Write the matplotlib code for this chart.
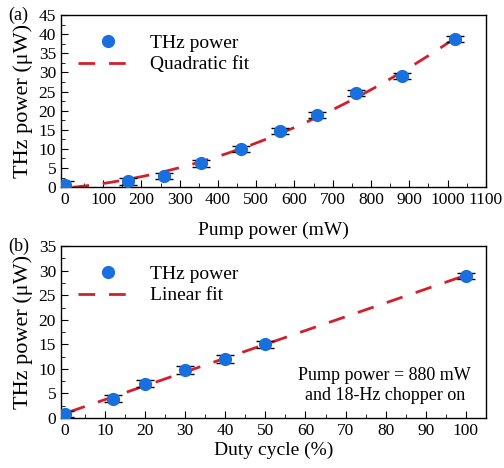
import numpy as np
import matplotlib.pyplot as plt
from matplotlib.ticker import MultipleLocator

plt.rcParams['font.family'] = ['Liberation Serif', 'DejaVu Serif']

# (a) THz power vs pump power
pump_mw = [0, 165, 260, 355, 460, 562, 660, 760, 880, 1020]
thz_a = [0.7, 1.5, 3.0, 6.2, 10.0, 14.7, 18.9, 24.5, 29.0, 38.8]
err_a = [0.8, 0.8, 0.8, 0.8, 0.8, 0.8, 0.8, 0.8, 0.8, 0.8]

# (b) THz power vs duty cycle
duty = [0, 12, 20, 30, 40, 50, 100]
thz_b = [0.8, 3.9, 7.0, 9.7, 12.0, 15.0, 29.0]
err_b = [0.6, 0.7, 0.8, 0.8, 0.8, 0.7, 0.6]

blue = '#1a6fdf'
red = '#d0202c'

fig = plt.figure(figsize=(5.04, 4.68), dpi=100)
ax1 = fig.add_axes([0.121, 0.600, 0.843, 0.368])
ax2 = fig.add_axes([0.121, 0.107, 0.843, 0.367])

def style(ax):
    ax.tick_params(which='both', direction='in', top=False, right=False, labelsize=12.5)
    ax.tick_params(which='major', length=5)
    ax.tick_params(which='minor', length=3)
    for s in ax.spines.values():
        s.set_linewidth(1.0)

def draw(ax, x, y, e, fx, fy, fit_label):
    ax.errorbar(x, y, yerr=e, fmt='none', ecolor='black', elinewidth=1,
                capsize=6.5, capthick=1, zorder=3)
    pts, = ax.plot(x, y, 'o', color=blue, ms=8.5, zorder=4, label='THz power')
    fit, = ax.plot(fx, fy, '--', color=red, lw=2, dashes=(6, 5), zorder=2,
                   label=fit_label)
    ax.legend(handles=[pts, fit], loc='upper left', frameon=False, fontsize=14,
              handlelength=3, bbox_to_anchor=(0.0, 0.99), handletextpad=0.7,
              labelspacing=0.2)

# panel (a)
qa = np.polyfit(pump_mw, thz_a, 2)
xq = np.linspace(20, 1020, 200)
draw(ax1, pump_mw, thz_a, err_a, xq, np.clip(np.polyval(qa, xq), 0, None), 'Quadratic fit')
ax1.set_xlim(-10, 1100)
ax1.set_ylim(0, 45)
ax1.xaxis.set_major_locator(MultipleLocator(100))
ax1.xaxis.set_minor_locator(MultipleLocator(50))
ax1.yaxis.set_major_locator(MultipleLocator(5))
ax1.yaxis.set_minor_locator(MultipleLocator(2.5))
ax1.set_xlabel('Pump power (mW)', fontsize=14, labelpad=10)
ax1.set_ylabel('THz power (μW)', fontsize=16, labelpad=4)
style(ax1)
ax1.text(-0.125, 1.0, '(a)', transform=ax1.transAxes, fontsize=13, va='center')

# panel (b)
lb = np.polyfit(duty, thz_b, 1)
xl = np.linspace(1, 100, 100)
draw(ax2, duty, thz_b, err_b, xl, np.polyval(lb, xl), 'Linear fit')
ax2.set_xlim(-1, 105)
ax2.set_ylim(0, 35)
ax2.xaxis.set_major_locator(MultipleLocator(10))
ax2.xaxis.set_minor_locator(MultipleLocator(5))
ax2.yaxis.set_major_locator(MultipleLocator(5))
ax2.yaxis.set_minor_locator(MultipleLocator(2.5))
ax2.set_xlabel('Duty cycle (%)', fontsize=14, labelpad=2)
ax2.set_ylabel('THz power (μW)', fontsize=16, labelpad=4)
style(ax2)
ax2.text(-0.125, 1.0, '(b)', transform=ax2.transAxes, fontsize=13, va='center')
ax2.text(0.762, 0.19, 'Pump power = 880 mW\nand 18-Hz chopper on',
         transform=ax2.transAxes, fontsize=13, ha='center', va='center',
         linespacing=1.2)

fig.savefig('out.png', dpi=100)
